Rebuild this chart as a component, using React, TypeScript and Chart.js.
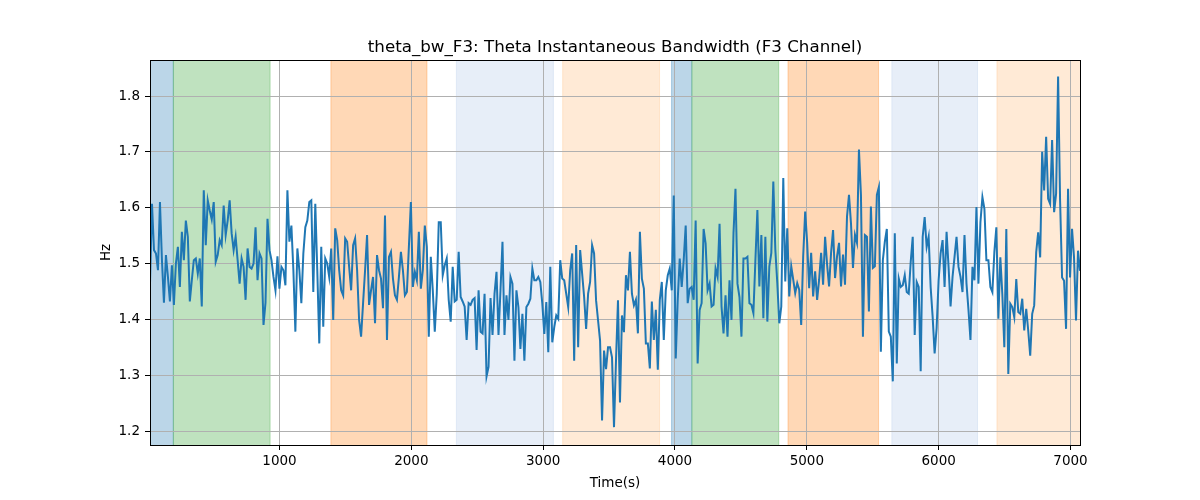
import React, { useEffect, useRef } from "react";
import { Chart, registerables } from "chart.js";
import type { Plugin } from "chart.js";

Chart.register(...registerables);

// recording starts/ends (seconds) and the sampling of the bandwidth signal
const recordStart = 18;
const recordEnd = 7072;

// theta instantaneous bandwidth on F3, in Hz, one value per sample
const thetaBandwidthHz = [
    1.464, 1.607, 1.524, 1.518, 1.488, 1.61, 1.506, 1.43, 1.515, 1.476, 1.432, 1.497, 1.426, 1.5, 1.53,
    1.458, 1.557, 1.506, 1.577, 1.548, 1.432, 1.47, 1.506, 1.509, 1.482, 1.509, 1.423, 1.631, 1.533, 1.613,
    1.595, 1.579, 1.61, 1.503, 1.515, 1.542, 1.533, 1.604, 1.551, 1.577, 1.613, 1.554, 1.524, 1.548, 1.506,
    1.464, 1.509, 1.494, 1.435, 1.527, 1.494, 1.491, 1.5, 1.565, 1.47, 1.518, 1.509, 1.39, 1.43, 1.58,

    1.524, 1.506, 1.476, 1.452, 1.513, 1.455, 1.494, 1.488, 1.461, 1.631, 1.539, 1.568, 1.488, 1.378, 1.527,
    1.488, 1.429, 1.518, 1.565, 1.577, 1.61, 1.613, 1.449, 1.607, 1.488, 1.357, 1.53, 1.387, 1.509, 1.5,
    1.476, 1.527, 1.399, 1.563, 1.542, 1.488, 1.452, 1.443, 1.545, 1.539, 1.494, 1.452, 1.533, 1.545, 1.488,
    1.399, 1.369, 1.429, 1.488, 1.551, 1.426, 1.452, 1.476, 1.393, 1.515, 1.488, 1.473, 1.42, 1.586, 1.363,
    1.512, 1.521,

    1.473, 1.443, 1.435, 1.476, 1.521, 1.488, 1.443, 1.449, 1.53, 1.61, 1.458, 1.485, 1.47, 1.557, 1.455,
    1.488, 1.568, 1.53, 1.369, 1.512, 1.452, 1.378, 1.446, 1.574, 1.574, 1.479, 1.497, 1.509, 1.435, 1.396,
    1.494, 1.432, 1.435, 1.521, 1.44, 1.432, 1.423, 1.363, 1.429, 1.426, 1.435, 1.438, 1.345, 1.452, 1.378,
    1.375, 1.446, 1.298, 1.315, 1.438, 1.372, 1.446, 1.485, 1.372, 1.452, 1.539, 1.372, 1.443, 1.399, 1.476,
    1.464,

    1.326, 1.452, 1.422, 1.347, 1.41, 1.326, 1.422, 1.428, 1.437, 1.491, 1.47, 1.47, 1.476, 1.467, 1.428,
    1.374, 1.431, 1.341, 1.494, 1.359, 1.386, 1.407, 1.401, 1.506, 1.473, 1.47, 1.446, 1.422, 1.488, 1.518,
    1.326, 1.533, 1.35, 1.524, 1.482, 1.44, 1.383, 1.446, 1.467, 1.533, 1.518, 1.434, 1.398, 1.362, 1.219,
    1.344, 1.311, 1.35, 1.35, 1.332, 1.207, 1.326, 1.434, 1.251, 1.407, 1.377, 1.479, 1.452, 1.521, 1.446,
    1.425,

    1.435, 1.375, 1.557, 1.473, 1.455, 1.357, 1.357, 1.312, 1.432, 1.363, 1.417, 1.31, 1.435, 1.467, 1.363,
    1.452, 1.479, 1.491, 1.452, 1.622, 1.33, 1.435, 1.509, 1.458, 1.506, 1.568, 1.429, 1.455, 1.458, 1.435,
    1.577, 1.321, 1.417, 1.429, 1.562, 1.536, 1.452, 1.464, 1.423, 1.426, 1.491, 1.476, 1.571, 1.423, 1.375,
    1.443, 1.369, 1.47, 1.399, 1.554, 1.634, 1.464, 1.44, 1.369, 1.509, 1.509, 1.512, 1.429, 1.426, 1.411,
    1.506,

    1.596, 1.459, 1.551, 1.402, 1.548, 1.396, 1.495, 1.519, 1.647, 1.525, 1.465, 1.393, 1.423, 1.653, 1.468,
    1.563, 1.441, 1.495, 1.471, 1.447, 1.465, 1.453, 1.39, 1.513, 1.593, 1.537, 1.456, 1.519, 1.441, 1.486,
    1.435, 1.471, 1.519, 1.462, 1.548, 1.498, 1.459, 1.519, 1.56, 1.474, 1.513, 1.537, 1.459, 1.516, 1.462,
    1.584, 1.623, 1.572, 1.492, 1.551, 1.537, 1.704, 1.623, 1.369, 1.551, 1.548, 1.414, 1.602, 1.492, 1.495,
    1.623,

    1.637, 1.342, 1.506, 1.539, 1.562, 1.378, 1.369, 1.289, 1.554, 1.321, 1.473, 1.458, 1.461, 1.479, 1.449,
    1.446, 1.503, 1.548, 1.372, 1.467, 1.458, 1.307, 1.548, 1.583, 1.53, 1.548, 1.458, 1.405, 1.339, 1.384,
    1.47, 1.518, 1.542, 1.458, 1.557, 1.494, 1.423, 1.476, 1.512, 1.548, 1.494, 1.476, 1.449, 1.551, 1.464,
    1.417, 1.363, 1.494, 1.47, 1.601, 1.464, 1.574, 1.619, 1.598, 1.506, 1.506, 1.458, 1.449, 1.521, 1.565,

    1.401, 1.511, 1.445, 1.35, 1.562, 1.302, 1.428, 1.422, 1.404, 1.472, 1.413, 1.41, 1.437, 1.38, 1.419,
    1.38, 1.335, 1.41, 1.425, 1.52, 1.556, 1.511, 1.7, 1.631, 1.727, 1.616, 1.607, 1.721, 1.592, 1.625,
    1.835, 1.613, 1.475, 1.469, 1.383, 1.634, 1.475, 1.562, 1.511, 1.398, 1.523, 1.487,
];

// shaded task periods (seconds)
const periodStarts = [0, 195, 1390, 2342, 3148, 3974, 4128, 4857, 5645, 6442];
const periodEnds = [195, 929, 2119, 3078, 3883, 4128, 4787, 5544, 6295, 7100];
const periodColors = [
    "rgba(31,119,180,0.3)",
    "rgba(44,160,44,0.3)",
    "rgba(255,127,14,0.3)",
    "rgba(174,199,232,0.3)",
    "rgba(255,187,120,0.3)",
    "rgba(31,119,180,0.3)",
    "rgba(44,160,44,0.3)",
    "rgba(255,127,14,0.3)",
    "rgba(174,199,232,0.3)",
    "rgba(255,187,120,0.3)",
];

const xTickValues = [1000, 2000, 3000, 4000, 5000, 6000, 7000];
const yTickValues = [1.2, 1.3, 1.4, 1.5, 1.6, 1.7, 1.8];

const chartTitle = "theta_bw_F3: Theta Instantaneous Bandwidth (F3 Channel)";

const FONT = "'DejaVu Sans', sans-serif";

// axvspan-like bands, painted under the grid
const periodsPlugin: Plugin<"line"> = {
    id: "periods",
    beforeDraw(chart) {
        const { ctx, chartArea, scales } = chart;
        const x = scales.x;
        ctx.save();
        ctx.beginPath();
        ctx.rect(chartArea.left, chartArea.top, chartArea.right - chartArea.left, chartArea.bottom - chartArea.top);
        ctx.clip();
        periodStarts.forEach((start, i) => {
            const x1 = x.getPixelForValue(start);
            const x2 = x.getPixelForValue(periodEnds[i]);
            ctx.fillStyle = periodColors[i];
            ctx.fillRect(x1, chartArea.top, x2 - x1, chartArea.bottom - chartArea.top);
            // thin edge, like matplotlib's patch outline
            ctx.strokeStyle = periodColors[i];
            ctx.lineWidth = 1;
            ctx.beginPath();
            ctx.moveTo(x1, chartArea.top);
            ctx.lineTo(x1, chartArea.bottom);
            ctx.moveTo(x2, chartArea.top);
            ctx.lineTo(x2, chartArea.bottom);
            ctx.stroke();
        });
        ctx.restore();
    },
};

// box around the axes and the title above it
const frameTitlePlugin: Plugin<"line"> = {
    id: "frameTitle",
    afterDraw(chart) {
        const { ctx, chartArea } = chart;
        ctx.save();
        ctx.strokeStyle = "#000";
        ctx.lineWidth = 1;
        ctx.strokeRect(
            Math.round(chartArea.left) + 0.5,
            Math.round(chartArea.top) + 0.5,
            Math.round(chartArea.right - chartArea.left),
            Math.round(chartArea.bottom - chartArea.top)
        );
        ctx.fillStyle = "#000";
        ctx.font = `16.7px ${FONT}`;
        ctx.textAlign = "center";
        ctx.textBaseline = "alphabetic";
        ctx.fillText(chartTitle, (chartArea.left + chartArea.right) / 2, chartArea.top - 8);
        ctx.restore();
    },
};

const App: React.FC = () => {
    const canvasRef = useRef<HTMLCanvasElement | null>(null);
    const chartRef = useRef<Chart<"line"> | null>(null);

    useEffect(() => {
        document.body.style.margin = "0";
        if (!canvasRef.current) return;
        if (chartRef.current) chartRef.current.destroy();

        const step = (recordEnd - recordStart) / (thetaBandwidthHz.length - 1);
        const points = thetaBandwidthHz.map((v, i) => ({ x: recordStart + i * step, y: v }));

        const tickFont = { family: FONT, size: 13.5 };

        chartRef.current = new Chart(canvasRef.current, {
            type: "line",
            data: {
                datasets: [
                    {
                        data: points,
                        borderColor: "#1f77b4",
                        borderWidth: 2,
                        pointRadius: 0,
                        tension: 0,
                        fill: false,
                    },
                ],
            },
            options: {
                animation: false,
                responsive: true,
                maintainAspectRatio: false,
                layout: { padding: { left: 94, right: 120, top: 60, bottom: 4 } },
                plugins: {
                    legend: { display: false },
                    tooltip: { enabled: false },
                    title: { display: false },
                },
                scales: {
                    x: {
                        type: "linear",
                        min: recordStart,
                        max: recordEnd,
                        afterBuildTicks: (scale) => {
                            scale.ticks = xTickValues.map((v) => ({ value: v }));
                        },
                        afterFit: (scale) => {
                            scale.height = 51;
                        },
                        border: { display: false },
                        grid: { color: "#b0b0b0", lineWidth: 1, tickColor: "#000", tickLength: 5, tickWidth: 1 },
                        ticks: {
                            color: "#000",
                            font: tickFont,
                            padding: 3,
                            maxRotation: 0,
                            autoSkip: false,
                            callback: (v) => String(v),
                        },
                        title: { display: true, text: "Time(s)", color: "#000", font: tickFont, padding: { top: 4, bottom: 4 } },
                    },
                    y: {
                        min: 1.175,
                        max: 1.8645,
                        afterBuildTicks: (scale) => {
                            scale.ticks = yTickValues.map((v) => ({ value: v }));
                        },
                        afterFit: (scale) => {
                            scale.width = 56;
                        },
                        border: { display: false },
                        grid: { color: "#b0b0b0", lineWidth: 1, tickColor: "#000", tickLength: 5, tickWidth: 1 },
                        ticks: {
                            color: "#000",
                            font: tickFont,
                            padding: 5,
                            callback: (v) => Number(v).toFixed(1),
                        },
                        title: { display: true, text: "Hz", color: "#000", font: tickFont, padding: { top: 4, bottom: 4 } },
                    },
                },
            },
            plugins: [periodsPlugin, frameTitlePlugin],
        });

        return () => {
            if (chartRef.current) {
                chartRef.current.destroy();
                chartRef.current = null;
            }
        };
    }, []);

    return (
        <div style={{ width: 1200, height: 500, position: "relative", background: "#fff" }}>
            <canvas ref={canvasRef} />
        </div>
    );
};

export default App;
